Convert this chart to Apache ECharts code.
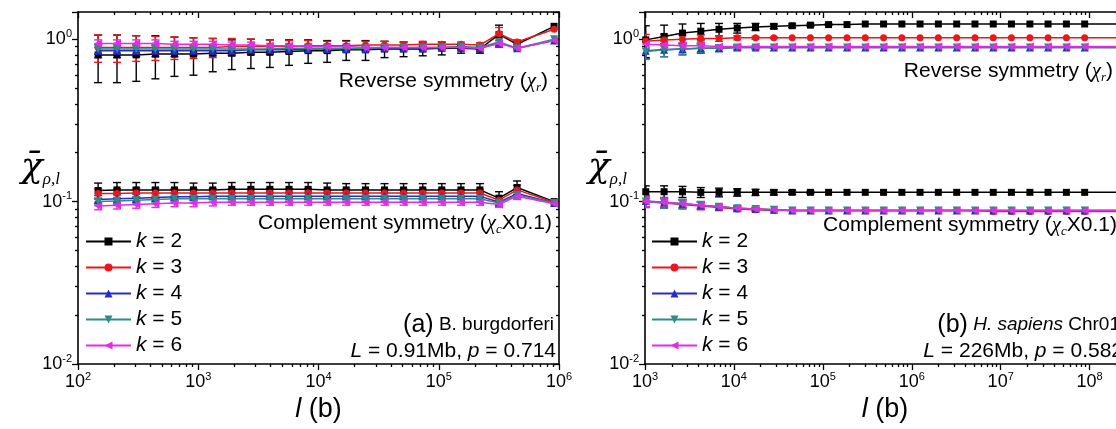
<!DOCTYPE html>
<html><head><meta charset="utf-8">
<script src="https://cdn.jsdelivr.net/npm/echarts@6/dist/echarts.min.js"></script>
<style>html,body{margin:0;padding:0;background:#fff;overflow:hidden}#c{width:1116px;height:429px}</style>
</head><body><div id="c"></div><script>
// ---------------- data ----------------
const kNames = ['k = 2', 'k = 3', 'k = 4', 'k = 5', 'k = 6'];

// panel (a) B. burgdorferi : window lengths l (b)
const lenA = [147, 211, 305, 440, 634, 913, 1320, 1900, 2740, 3940, 5690, 8200, 11800, 17000, 24600, 35400, 51000, 73600, 106000, 153000, 220000, 317000, 448000, 910000];
const revA = [
  [0.80,0.80,0.80,0.81,0.81,0.81,0.82,0.82,0.83,0.83,0.84,0.85,0.85,0.86,0.86,0.87,0.87,0.87,0.88,0.88,0.87,1.07,0.93,1.20],
  [0.89,0.89,0.89,0.89,0.89,0.89,0.89,0.90,0.90,0.90,0.90,0.91,0.91,0.91,0.92,0.92,0.92,0.93,0.93,0.93,0.92,1.08,0.96,1.15],
  [0.85,0.85,0.85,0.85,0.85,0.85,0.85,0.85,0.86,0.86,0.86,0.87,0.87,0.87,0.87,0.88,0.88,0.88,0.89,0.89,0.88,0.95,0.88,0.98],
  [0.87,0.87,0.87,0.87,0.87,0.87,0.87,0.87,0.87,0.87,0.88,0.88,0.88,0.88,0.88,0.89,0.89,0.89,0.89,0.90,0.89,0.96,0.88,1.00],
  [0.94,0.94,0.94,0.94,0.93,0.93,0.93,0.92,0.92,0.91,0.91,0.90,0.90,0.90,0.89,0.89,0.89,0.89,0.89,0.89,0.88,0.94,0.88,0.98]
];
const revErrA = [
  [0.26,0.26,0.25,0.24,0.22,0.21,0.19,0.17,0.17,0.16,0.15,0.14,0.13,0.12,0.12,0.10,0.09,0.08,0.08,0.06,0.05,0.15,0.05,0],
  [0.17,0.17,0.16,0.15,0.14,0.13,0.12,0.11,0.10,0.09,0.08,0.07,0.06,0.06,0.05,0.05,0.04,0.04,0.03,0.03,0.03,0.10,0.03,0],
  [0.08,0.08,0.07,0.07,0.07,0.06,0.06,0.05,0.05,0.05,0.04,0.04,0.04,0.03,0.03,0.03,0.03,0.02,0.02,0.02,0.02,0.06,0.02,0],
  [0.06,0.06,0.06,0.05,0.05,0.05,0.05,0.04,0.04,0.04,0.04,0.03,0.03,0.03,0.03,0.03,0.02,0.02,0.02,0.02,0.02,0.05,0.02,0],
  [0.05,0.05,0.05,0.05,0.04,0.04,0.04,0.04,0.04,0.03,0.03,0.03,0.03,0.03,0.02,0.02,0.02,0.02,0.02,0.02,0.02,0.04,0.02,0]
];
const compA = [
  [0.117,0.118,0.118,0.118,0.118,0.118,0.118,0.119,0.119,0.119,0.119,0.119,0.118,0.118,0.118,0.118,0.118,0.118,0.118,0.118,0.118,0.105,0.122,0.100],
  [0.112,0.112,0.113,0.113,0.113,0.113,0.113,0.113,0.113,0.113,0.113,0.113,0.113,0.113,0.113,0.113,0.113,0.113,0.113,0.113,0.113,0.102,0.118,0.099],
  [0.103,0.104,0.105,0.106,0.107,0.107,0.108,0.108,0.108,0.108,0.108,0.108,0.108,0.108,0.108,0.108,0.108,0.108,0.108,0.108,0.108,0.099,0.112,0.098],
  [0.100,0.101,0.102,0.103,0.104,0.104,0.104,0.104,0.104,0.104,0.104,0.104,0.104,0.104,0.104,0.104,0.104,0.104,0.104,0.104,0.104,0.098,0.110,0.098],
  [0.094,0.095,0.096,0.097,0.098,0.098,0.099,0.099,0.099,0.099,0.099,0.099,0.099,0.099,0.099,0.099,0.099,0.099,0.099,0.099,0.099,0.096,0.108,0.097]
];
const compErrA = [
  [0.013,0.013,0.013,0.013,0.013,0.012,0.012,0.012,0.012,0.012,0.012,0.012,0.012,0.011,0.011,0.011,0.011,0.011,0.011,0.011,0.011,0.010,0.012,0],
  [0.008,0.008,0.008,0.008,0.007,0.007,0.007,0.007,0.007,0.007,0.007,0.007,0.006,0.006,0.006,0.006,0.006,0.006,0.006,0.006,0.006,0.006,0.008,0],
  [0.006,0.006,0.006,0.006,0.006,0.005,0.005,0.005,0.005,0.005,0.005,0.005,0.005,0.005,0.005,0.005,0.005,0.005,0.005,0.005,0.005,0.005,0.006,0],
  [0.005,0.005,0.005,0.005,0.005,0.005,0.005,0.004,0.004,0.004,0.004,0.004,0.004,0.004,0.004,0.004,0.004,0.004,0.004,0.004,0.004,0.004,0.005,0],
  [0.005,0.005,0.005,0.005,0.005,0.005,0.005,0.004,0.004,0.004,0.004,0.004,0.004,0.004,0.004,0.004,0.004,0.004,0.004,0.004,0.004,0.004,0.005,0]
];

// panel (b) H. sapiens Chr01
const lenB = [1020, 1640, 2640, 4240, 6800, 10900, 17500, 28100, 45200, 72500, 116000, 187000, 300000, 482000, 774000, 1240000, 1990000, 3200000, 5140000, 8250000, 13200000, 21300000, 34100000, 54800000, 88000000, 226000000];
const revB = [
  [0.99,1.04,1.09,1.12,1.15,1.17,1.19,1.20,1.21,1.22,1.23,1.23,1.24,1.24,1.24,1.24,1.24,1.24,1.24,1.24,1.24,1.24,1.24,1.24,1.24,1.24],
  [0.97,0.99,1.00,1.01,1.01,1.02,1.02,1.02,1.02,1.02,1.02,1.02,1.02,1.02,1.02,1.02,1.02,1.02,1.02,1.02,1.02,1.02,1.02,1.02,1.02,1.02],
  [0.85,0.86,0.87,0.88,0.88,0.89,0.89,0.89,0.89,0.89,0.89,0.89,0.89,0.89,0.89,0.89,0.89,0.89,0.89,0.89,0.89,0.89,0.89,0.89,0.89,0.89],
  [0.84,0.86,0.87,0.88,0.88,0.89,0.89,0.89,0.89,0.89,0.89,0.89,0.89,0.89,0.89,0.89,0.89,0.89,0.89,0.89,0.89,0.89,0.89,0.89,0.89,0.89],
  [0.93,0.92,0.91,0.91,0.90,0.90,0.90,0.90,0.90,0.90,0.90,0.90,0.90,0.90,0.90,0.90,0.90,0.90,0.90,0.90,0.90,0.90,0.90,0.90,0.90,0.90]
];
const revErrB = [
  [0.22,0.18,0.15,0.13,0.10,0.08,0.06,0.04,0.03,0.02,0.01,0,0,0,0,0,0,0,0,0,0,0,0,0,0,0],
  [0.10,0.08,0.06,0.05,0.04,0.03,0.02,0.01,0,0,0,0,0,0,0,0,0,0,0,0,0,0,0,0,0,0],
  [0.09,0.08,0.07,0.06,0.04,0.03,0.02,0.01,0,0,0,0,0,0,0,0,0,0,0,0,0,0,0,0,0,0],
  [0.09,0.08,0.06,0.05,0.04,0.03,0.02,0.01,0,0,0,0,0,0,0,0,0,0,0,0,0,0,0,0,0,0],
  [0.06,0.05,0.04,0.03,0.02,0.01,0,0,0,0,0,0,0,0,0,0,0,0,0,0,0,0,0,0,0,0]
];
const compB = [
  [0.115,0.115,0.115,0.114,0.114,0.114,0.114,0.114,0.114,0.114,0.114,0.114,0.114,0.114,0.114,0.114,0.114,0.114,0.114,0.114,0.114,0.114,0.114,0.114,0.114,0.114],
  [0.100,0.098,0.096,0.094,0.092,0.090,0.089,0.088,0.088,0.088,0.088,0.088,0.088,0.088,0.088,0.088,0.088,0.088,0.088,0.087,0.087,0.087,0.087,0.087,0.087,0.087],
  [0.101,0.099,0.097,0.095,0.093,0.091,0.090,0.089,0.088,0.088,0.088,0.088,0.088,0.088,0.088,0.088,0.088,0.088,0.088,0.088,0.088,0.088,0.088,0.088,0.088,0.088],
  [0.100,0.098,0.097,0.095,0.093,0.091,0.090,0.089,0.088,0.088,0.088,0.088,0.088,0.088,0.088,0.088,0.088,0.088,0.088,0.088,0.088,0.088,0.088,0.088,0.088,0.088],
  [0.100,0.099,0.097,0.095,0.093,0.091,0.090,0.089,0.088,0.088,0.088,0.088,0.088,0.088,0.088,0.088,0.088,0.088,0.088,0.088,0.088,0.088,0.088,0.088,0.088,0.088]
];
const compErrB = [
  [0.010,0.010,0.009,0.008,0.007,0.006,0.005,0.004,0.003,0.002,0,0,0,0,0,0,0,0,0,0,0,0,0,0,0,0],
  [0.008,0.007,0.006,0.005,0.004,0.003,0.002,0,0,0,0,0,0,0,0,0,0,0,0,0,0,0,0,0,0,0],
  [0.008,0.007,0.006,0.005,0.004,0.003,0.002,0,0,0,0,0,0,0,0,0,0,0,0,0,0,0,0,0,0,0],
  [0.008,0.007,0.006,0.005,0.004,0.003,0.002,0,0,0,0,0,0,0,0,0,0,0,0,0,0,0,0,0,0,0],
  [0.007,0.006,0.005,0.004,0.003,0.002,0,0,0,0,0,0,0,0,0,0,0,0,0,0,0,0,0,0,0,0]
];

// ---------------- styles ----------------
const F = 'Liberation Sans, Arial, sans-serif';
const SERIF = 'Liberation Serif, Times New Roman, serif';
const kColors = ['#000000', '#e8191c', '#2a2ac8', '#2a8c82', '#e02ee6'];
const kSymbols = ['rect', 'circle', 'triangle', 'triangle', 'triangle'];
const kRotate = [0, 0, 0, 180, 90];
const kSize = [7, 7, 8, 8, 8];

function logFmt(v) {
  const e = Math.log10(v), r = Math.round(e);
  if (Math.abs(e - r) > 1e-6) return '';
  return '{b|10}{s|' + r + '}';
}
const tickRich = {
  b: { fontSize: 18, fontFamily: F, color: '#000', lineHeight: 22 },
  s: { fontSize: 11, fontFamily: F, color: '#000', lineHeight: 12, verticalAlign: 'top' }
};
function minorVals(lo, hi) {
  const out = [];
  for (let e = lo; e < hi; e++) for (let d = 2; d <= 9; d++) out.push(+(d * Math.pow(10, e)).toPrecision(6));
  return out;
}
const black = { color: '#000', width: 1.3 };

function xAxesFor(gi, min, max, minors) {
  const base = { type: 'log', logBase: 10, gridIndex: gi, min, max, splitLine: { show: false },
    axisLine: { show: false }, axisLabel: { show: false }, axisTick: { show: false } };
  return [
    Object.assign({}, base, { position: 'bottom',
      axisLine: { show: true, onZero: false, lineStyle: { color: '#000', width: 1.6 } },
      axisTick: { show: true, length: 6, lineStyle: black },
      axisLabel: { show: true, formatter: logFmt, rich: tickRich, margin: 7, showMinLabel: true, showMaxLabel: true, hideOverlap: false },
      name: '{i|l}{n| (b)}', nameLocation: 'middle', nameGap: 32, nameMoveOverlap: false,
      nameTextStyle: { rich: { i: { fontSize: 27, fontFamily: F, fontStyle: 'italic', color: '#000' }, n: { fontSize: 27, fontFamily: F, color: '#000' } } } }),
    Object.assign({}, base, { position: 'bottom', axisTick: { show: true, length: 3, customValues: minors, lineStyle: black } }),
    Object.assign({}, base, { position: 'top', axisLine: { show: true, onZero: false, lineStyle: { color: '#000', width: 1.6 } },
      axisTick: { show: true, inside: true, length: 6, lineStyle: black } }),
    Object.assign({}, base, { position: 'top', axisTick: { show: true, inside: true, length: 3, customValues: minors, lineStyle: black } })
  ];
}
function yAxesFor(gi, min, max, minors) {
  const base = { type: 'log', logBase: 10, gridIndex: gi, min, max, splitLine: { show: false },
    axisLine: { show: false }, axisLabel: { show: false }, axisTick: { show: false } };
  return [
    Object.assign({}, base, { position: 'left',
      axisLine: { show: true, onZero: false, lineStyle: { color: '#000', width: 1.6 } },
      axisTick: { show: true, length: 6, lineStyle: black },
      axisLabel: { show: true, formatter: logFmt, rich: tickRich, margin: 6, showMinLabel: true, showMaxLabel: true, hideOverlap: false },
      name: '{c|χ̄}{s|ρ,l}', nameLocation: 'middle', nameRotate: 0, nameGap: 18, nameMoveOverlap: false,
      nameTextStyle: { padding: [0, 0, 40, 0], rich: {
        c: { fontSize: 36, fontFamily: 'DejaVu Serif', fontStyle: 'italic', color: '#000', lineHeight: 40 },
        s: { fontSize: 17, fontFamily: SERIF, fontStyle: 'italic', color: '#000', lineHeight: 17, verticalAlign: 'bottom' } } } }),
    Object.assign({}, base, { position: 'left', axisTick: { show: true, length: 3, customValues: minors, lineStyle: black } }),
    Object.assign({}, base, { position: 'right', axisLine: { show: true, onZero: false, lineStyle: { color: '#000', width: 1.6 } },
      axisTick: { show: true, inside: true, length: 6, lineStyle: black } }),
    Object.assign({}, base, { position: 'right', axisTick: { show: true, inside: true, length: 3, customValues: minors, lineStyle: black } })
  ];
}

const series = [];
const errSeries = [];
function addGroup(gi, xs, vals, errs) {
  vals.forEach((ys, k) => {
    series.push({
      type: 'line', name: kNames[k], xAxisIndex: gi * 4, yAxisIndex: gi * 4,
      data: xs.map((x, i) => [x, ys[i]]),
      symbol: kSymbols[k], symbolRotate: kRotate[k], symbolSize: kSize[k], showSymbol: true,
      lineStyle: { color: kColors[k], width: 1.5 }, itemStyle: { color: kColors[k] },
      z: 3 + k * 0.1, animation: false, clip: true
    });
    const ed = xs.map((x, i) => [x, ys[i] - errs[k][i], ys[i] + errs[k][i]]).filter(d => d[2] > d[1]);
    const col = kColors[k];
    errSeries.push({
      type: 'custom', name: kNames[k], xAxisIndex: gi * 4, yAxisIndex: gi * 4, z: 2, animation: false, clip: true,
      data: ed, encode: { x: 0, y: [1, 2] },
      renderItem: function (params, api) {
        const x = api.value(0);
        const p1 = api.coord([x, api.value(2)]), p2 = api.coord([x, api.value(1)]);
        const w = 4;
        const st = { stroke: col, lineWidth: 1.4 };
        return { type: 'group', children: [
          { type: 'line', shape: { x1: p1[0], y1: p1[1], x2: p2[0], y2: p2[1] }, style: st },
          { type: 'line', shape: { x1: p1[0] - w, y1: p1[1], x2: p1[0] + w, y2: p1[1] }, style: st },
          { type: 'line', shape: { x1: p2[0] - w, y1: p2[1], x2: p2[0] + w, y2: p2[1] }, style: st }
        ] };
      }
    });
  });
}
addGroup(0, lenA, revA, revErrA);
addGroup(0, lenA, compA, compErrA);
addGroup(1, lenB, revB, revErrB);
addGroup(1, lenB, compB, compErrB);

const noteRich = {
  n: { fontSize: 21, fontFamily: F, fill: '#000', lineHeight: 26 },
  i: { fontSize: 21, fontFamily: F, fontStyle: 'italic', fill: '#000', lineHeight: 26 },
  g: { fontSize: 21, fontFamily: SERIF, fontStyle: 'italic', fill: '#000', lineHeight: 26 },
  sub: { fontSize: 13, fontFamily: SERIF, fontStyle: 'italic', fill: '#000', lineHeight: 14, verticalAlign: 'bottom' },
  p: { fontSize: 25, fontFamily: F, fill: '#000', lineHeight: 28 },
  m: { fontSize: 19, fontFamily: F, fill: '#000', lineHeight: 28 },
  mi: { fontSize: 19, fontFamily: F, fontStyle: 'italic', fill: '#000', lineHeight: 28 }
};
function note(x, y, text) {
  return { type: 'text', x: x, y: y, z: 10, silent: true,
    style: { text: text, rich: noteRich, align: 'right', verticalAlign: 'middle', textAlign: 'right', textVerticalAlign: 'middle', fill: '#000' } };
}

const legendBase = {
  orient: 'vertical', data: kNames, selectedMode: false, itemWidth: 45, itemHeight: 10, itemGap: 5, top: 226,
  formatter: function (name) { return '{i|k}{n| = ' + name.split('= ')[1] + '}'; },
  textStyle: { rich: {
    i: { fontSize: 21, fontFamily: F, fontStyle: 'italic', color: '#000', lineHeight: 22 },
    n: { fontSize: 21, fontFamily: F, color: '#000', lineHeight: 22 } } }
};

const option = {
  backgroundColor: '#fff',
  animation: false,
  grid: [
    { left: 78, top: 12, width: 481, height: 352, outerBoundsMode: 'none', containLabel: false },
    { left: 645, top: 12, width: 480, height: 352, outerBoundsMode: 'none', containLabel: false }
  ],
  xAxis: xAxesFor(0, 100, 1000000, minorVals(2, 6)).concat(xAxesFor(1, 1000, 250000000, minorVals(3, 9))),
  yAxis: yAxesFor(0, 0.01, 1.47, minorVals(-2, 1)).concat(yAxesFor(1, 0.01, 1.47, minorVals(-2, 1))),
  legend: [
    Object.assign({}, legendBase, { left: 80 }),
    Object.assign({}, legendBase, { left: 646 })
  ],
  series: series.concat(errSeries),
  graphic: [
    note(548, 81, '{n|Reverse symmetry (}{g|χ}{sub|r}{n|)}'),
    note(552, 223, '{n|Complement symmetry (}{g|χ}{sub|c}{n|X0.1)}'),
    note(554, 325, '{p|(a)}{m| B. burgdorferi}'),
    note(556, 351, '{i|L}{n| = 0.91Mb, }{i|p}{n| = 0.714}'),
    note(1113, 71, '{n|Reverse symmetry (}{g|χ}{sub|r}{n|)}'),
    note(1117, 225, '{n|Complement symmetry (}{g|χ}{sub|c}{n|X0.1)}'),
    note(1120, 325, '{p|(b)}{mi| H. sapiens}{m| Chr01}'),
    note(1123, 351, '{i|L}{n| = 226Mb, }{i|p}{n| = 0.582}')
  ]
};
const chart = echarts.init(document.getElementById('c'), null, { renderer: 'canvas' });
chart.setOption(option);
</script></body></html>
